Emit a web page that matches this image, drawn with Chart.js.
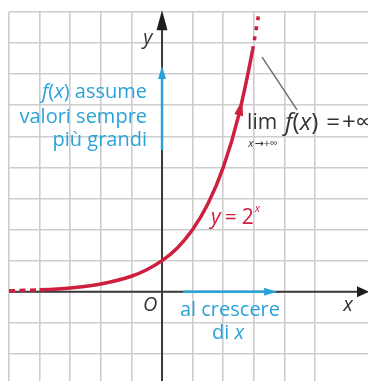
<!DOCTYPE html>
<html>
<head>
<meta charset="utf-8">
<script src="https://cdn.jsdelivr.net/npm/chart.js@4.4.0/dist/chart.umd.min.js"></script>
<style>
  html, body { margin: 0; padding: 0; background: #fff; }
  #wrap { width: 368px; height: 381px; }
</style>
</head>
<body>
<div id="wrap"><canvas id="expChart"></canvas></div>
<script>
// Samples of y = 2^x
const xValues = [-5, -4, -3, -2, -1, -0.5, 0, 0.5, 1, 1.5, 2, 2.5, 2.96, 3.15];
const yValues = [0.031, 0.0625, 0.125, 0.25, 0.5, 0.71, 1, 1.41, 2, 2.83, 4, 5.66, 7.78, 8.88];

// Visible window, one grid square per unit
const xRange = [-5, 6.73];
const yRange = [-2.87, 9];

const RED = '#cf1f3e';
const BLUE = '#2aa3d9';
const INK = '#333333';
const FONT = '"Open Sans", "DejaVu Sans", sans-serif';

// Only integer grid lines
function keepIntegers(scale) {
    scale.ticks = scale.ticks.filter(t => Number.isInteger(t.value));
}

function axisOptions(range) {
    return {
        type: 'linear',
        min: range[0],
        max: range[1],
        ticks: { display: false, stepSize: 1 },
        grid: { color: '#cdcdcd', lineWidth: 1.6, drawTicks: false },
        border: { display: false },
        afterBuildTicks: keepIntegers
    };
}

function arrowHead(ctx, x0, y0, x1, y1, len, half, color) {
    const a = Math.atan2(y1 - y0, x1 - x0);
    ctx.save();
    ctx.fillStyle = color;
    ctx.beginPath();
    ctx.moveTo(x1, y1);
    ctx.lineTo(x1 - len * Math.cos(a) + half * Math.sin(a), y1 - len * Math.sin(a) - half * Math.cos(a));
    ctx.lineTo(x1 - len * Math.cos(a) - half * Math.sin(a), y1 - len * Math.sin(a) + half * Math.cos(a));
    ctx.closePath();
    ctx.fill();
    ctx.restore();
}

function arrow(ctx, x0, y0, x1, y1, color, width, len, half) {
    const a = Math.atan2(y1 - y0, x1 - x0);
    ctx.save();
    ctx.strokeStyle = color;
    ctx.lineWidth = width;
    ctx.beginPath();
    ctx.moveTo(x0, y0);
    ctx.lineTo(x1 - len * 0.8 * Math.cos(a), y1 - len * 0.8 * Math.sin(a));
    ctx.stroke();
    ctx.restore();
    arrowHead(ctx, x0, y0, x1, y1, len, half, color);
}

// Text made of runs, some italic; align 'left' | 'right' | 'center'
function textRuns(ctx, runs, x, y, align, size, color) {
    ctx.save();
    ctx.fillStyle = color;
    ctx.textBaseline = 'middle';
    ctx.textAlign = 'left';
    let total = 0;
    const widths = runs.map(r => {
        ctx.font = (r.it ? 'italic ' : '') + (r.size || size) + 'px ' + FONT;
        const w = ctx.measureText(r.t).width + (r.gap || 0);
        total += w;
        return w;
    });
    let cx = align === 'right' ? x - total : align === 'center' ? x - total / 2 : x;
    runs.forEach((r, i) => {
        ctx.font = (r.it ? 'italic ' : '') + (r.size || size) + 'px ' + FONT;
        ctx.fillText(r.t, cx, y + (r.dy || 0));
        cx += widths[i];
    });
    ctx.restore();
}

const axesPlugin = {
    id: 'axes',
    beforeDatasetsDraw(chart) {
        const { ctx, scales: { x, y }, chartArea } = chart;
        const x0 = x.getPixelForValue(0);
        const y0 = y.getPixelForValue(0);
        ctx.save();
        ctx.strokeStyle = '#3a3a3a';
        ctx.lineWidth = 2;
        ctx.beginPath();
        ctx.moveTo(chartArea.left, y0);
        ctx.lineTo(x.getPixelForValue(xRange[1]) - 8, y0);
        ctx.moveTo(x0, chart.height);
        ctx.lineTo(x0, y.getPixelForValue(9.06) + 10);
        ctx.stroke();
        ctx.restore();
        arrowHead(ctx, x0 - 20, y0, x.getPixelForValue(xRange[1]) + 1, y0, 12, 5.5, '#1e1e1e');
        arrowHead(ctx, x0, y0, x0, y.getPixelForValue(9.06), 20, 5.5, '#1e1e1e');
    }
};

const notesPlugin = {
    id: 'notes',
    afterDatasetsDraw(chart) {
        const { ctx, scales: { x, y } } = chart;
        const X = v => x.getPixelForValue(v);
        const Y = v => y.getPixelForValue(v);

        // arrow along the curve
        arrowHead(ctx, X(2.5), Y(5.66), X(2.62), Y(6.15), 15, 4.5, RED);

        // blue arrows on the axes
        arrow(ctx, X(0), Y(4.56), X(0), Y(7.26), BLUE, 2.5, 13, 4);
        arrow(ctx, X(0.69), Y(0), X(3.76), Y(0), BLUE, 2.5, 13, 4);

        // axis names
        textRuns(ctx, [{ t: 'y', it: true }], X(-0.46), Y(8.16), 'center', 20, INK);
        textRuns(ctx, [{ t: 'x', it: true }], X(6.08), Y(-0.42), 'center', 20, INK);
        textRuns(ctx, [{ t: 'O', it: true }], X(-0.39), Y(-0.42), 'center', 20, INK);

        // f(x) assume valori sempre più grandi
        textRuns(ctx, [{ t: 'f', it: true }, { t: '(' }, { t: 'x', it: true }, { t: ') assume' }],
            X(-0.49), Y(6.42), 'right', 20, BLUE);
        textRuns(ctx, [{ t: 'valori sempre' }], X(-0.49), Y(5.62), 'right', 20, BLUE);
        textRuns(ctx, [{ t: 'più grandi' }], X(-0.49), Y(4.88), 'right', 20, BLUE);

        // al crescere di x
        textRuns(ctx, [{ t: 'al crescere' }], X(2.22), Y(-0.59), 'center', 20, BLUE);
        textRuns(ctx, [{ t: 'di ' }, { t: 'x', it: true }], X(2.16), Y(-1.33), 'center', 20, BLUE);

        // y = 2^x
        textRuns(ctx, [
            { t: 'y', it: true, gap: 4 },
            { t: '=', gap: 5 },
            { t: '2', gap: 1 },
            { t: 'x', it: true, size: 11, dy: -9 }
        ], X(1.6), Y(2.37), 'left', 21, RED);

        // limit note with its leader line
        ctx.save();
        ctx.strokeStyle = '#707070';
        ctx.lineWidth = 1.5;
        ctx.beginPath();
        ctx.moveTo(X(3.27), Y(7.55));
        ctx.lineTo(X(4.41), Y(5.85));
        ctx.stroke();
        ctx.restore();
        textRuns(ctx, [{ t: 'lim' }], X(2.78), Y(5.43), 'left', 21, INK);
        textRuns(ctx, [{ t: 'x', it: true, gap: 1 }, { t: '→+∞' }], X(3.3), Y(4.77), 'center', 11, INK);
        textRuns(ctx, [
            { t: 'f', it: true },
            { t: '(' },
            { t: 'x', it: true },
            { t: ')', gap: 8 },
            { t: '=', gap: 2 },
            { t: '+∞' }
        ], X(4.02), Y(5.43), 'left', 24, INK);
    }
};

const points = xValues.map((v, i) => ({ x: v, y: yValues[i] }));
const lastIndex = points.length - 1;

const ctx = document.getElementById('expChart').getContext('2d');
new Chart(ctx, {
    type: 'scatter',
    data: {
        datasets: [{
            data: points,
            showLine: true,
            borderColor: RED,
            borderWidth: 3.5,
            pointRadius: 0,
            cubicInterpolationMode: 'monotone',
            segment: {
                // dotted ends of the curve
                borderDash: c => c.p0DataIndex === 0 ? [6, 4.5]
                    : c.p1DataIndex === lastIndex ? [4, 6] : undefined
            }
        }]
    },
    options: {
        responsive: true,
        maintainAspectRatio: false,
        animation: false,
        layout: { padding: { left: 9, top: 12, right: 0, bottom: 0 } },
        plugins: {
            legend: { display: false },
            tooltip: { enabled: false }
        },
        scales: {
            x: axisOptions(xRange),
            y: axisOptions(yRange)
        }
    },
    plugins: [axesPlugin, notesPlugin]
});
</script>
</body>
</html>
